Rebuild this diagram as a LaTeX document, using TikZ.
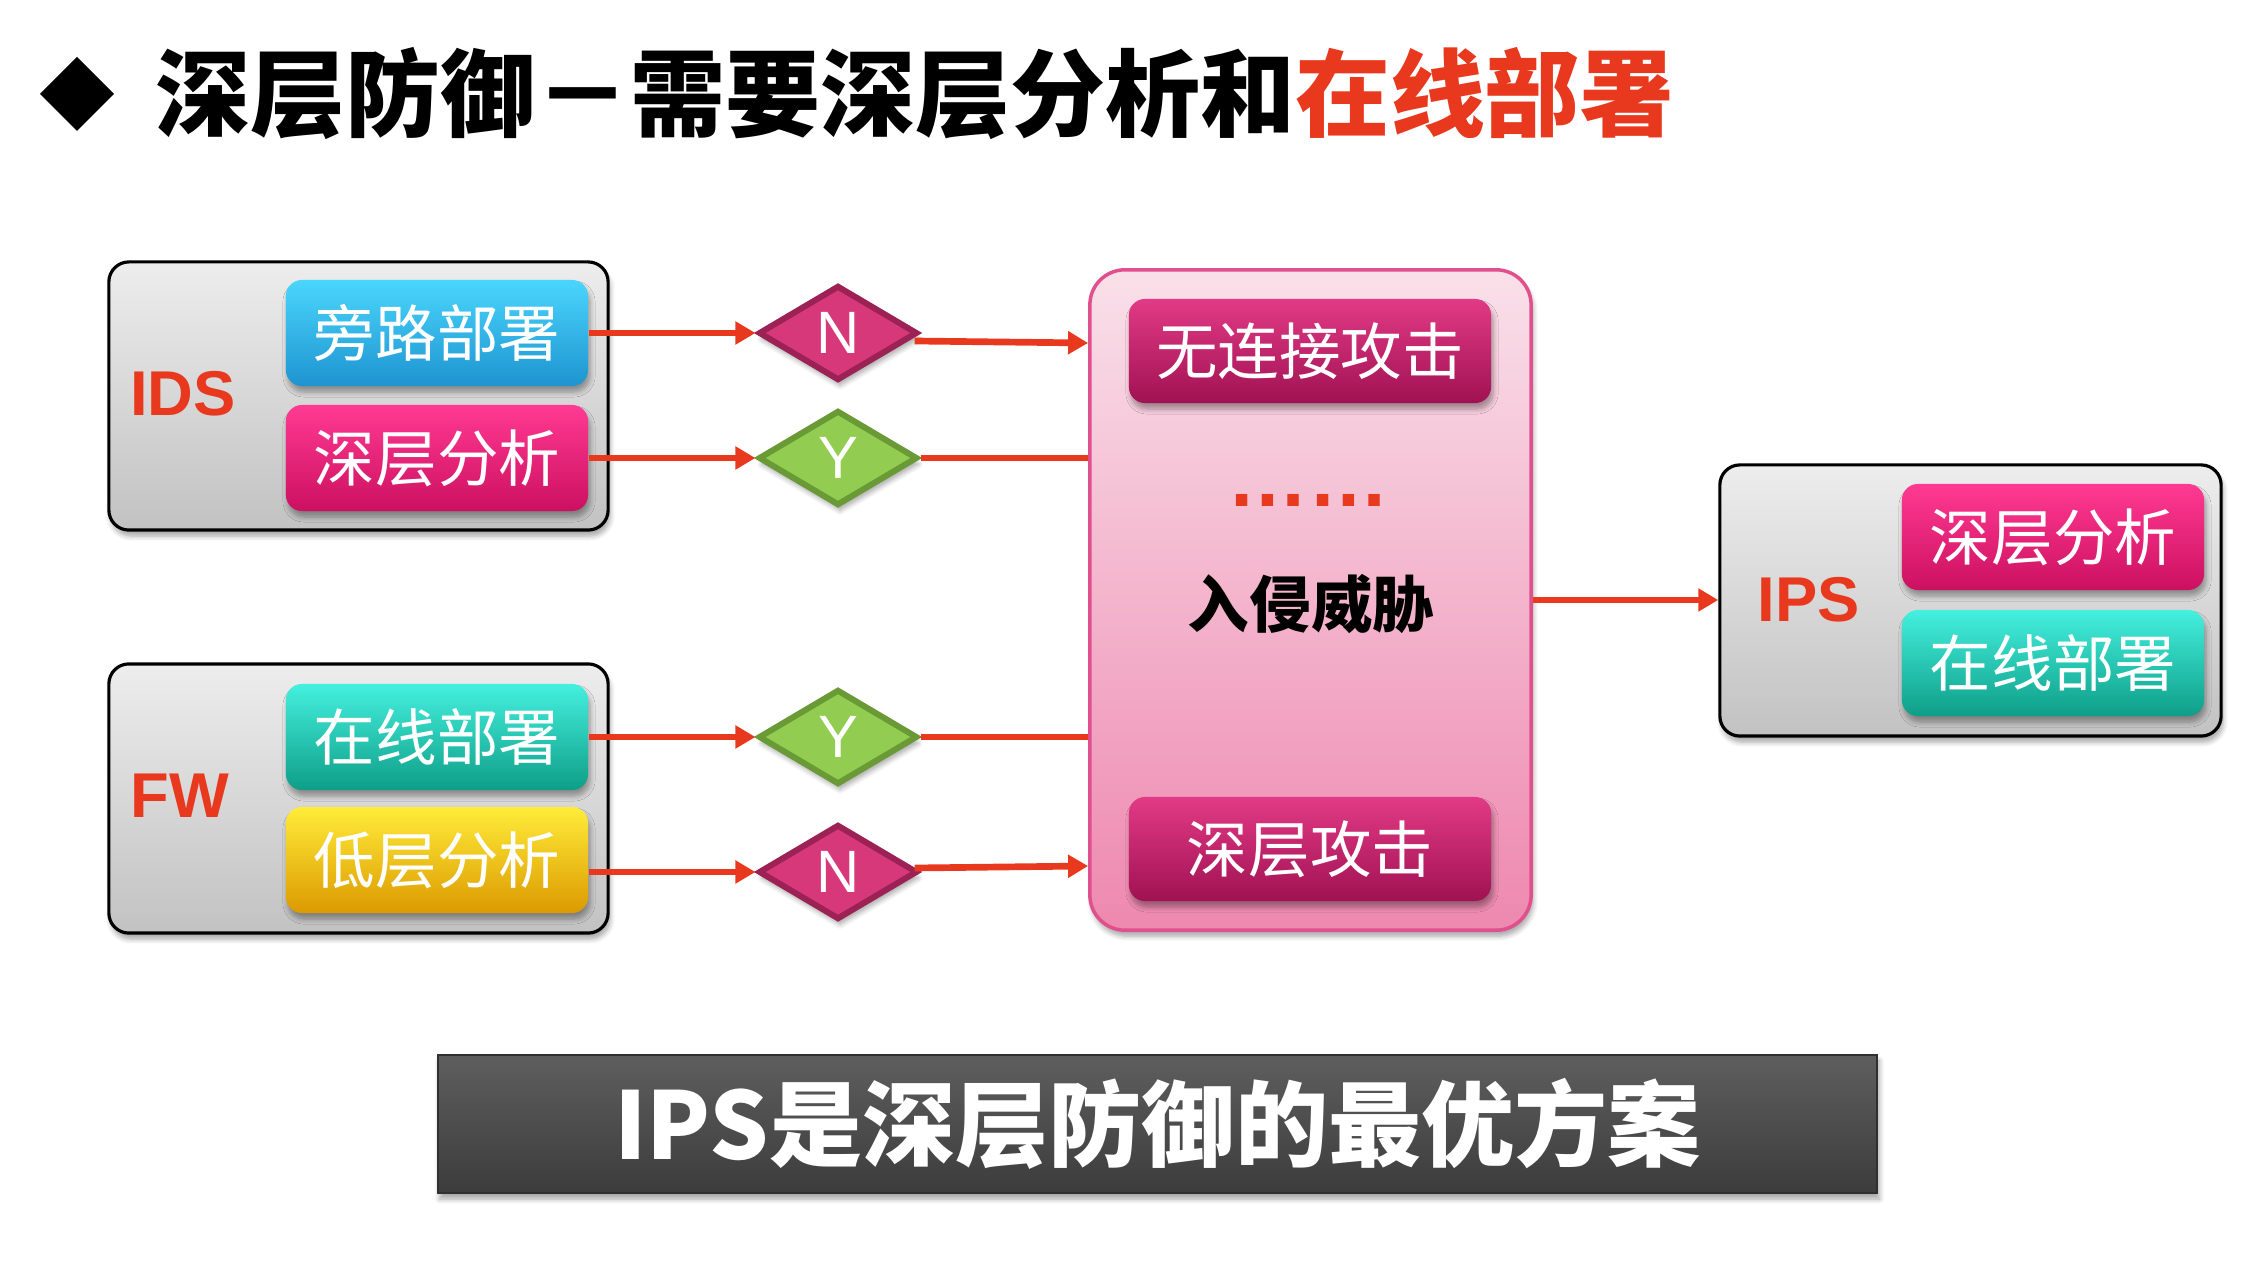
\documentclass[tikz,border=0pt]{standalone}
\usepackage{fontspec}
\usetikzlibrary{arrows.meta,shapes.geometric,shadows.blur,calc}
\newfontfamily\cjk{Noto Sans CJK SC}
\newfontfamily\lat{Liberation Sans}

\definecolor{accent}{HTML}{E8381E}
\definecolor{grouptop}{HTML}{EDEDED}
\definecolor{groupbot}{HTML}{C2C2C2}
\definecolor{bluetop}{HTML}{4AD6FC}
\definecolor{bluemid}{HTML}{26B4EC}
\definecolor{bluebot}{HTML}{1E94D0}
\definecolor{rosetop}{HTML}{FF3A92}
\definecolor{rosemid}{HTML}{FF1576}
\definecolor{rosebot}{HTML}{CC1060}
\definecolor{tealtop}{HTML}{44F0DE}
\definecolor{tealmid}{HTML}{16CBB2}
\definecolor{tealbot}{HTML}{0E9E88}
\definecolor{goldtop}{HTML}{FFEC3A}
\definecolor{goldmid}{HTML}{FFC800}
\definecolor{goldbot}{HTML}{DC9A00}
\definecolor{plumtop}{HTML}{E23A86}
\definecolor{plummid}{HTML}{BE1662}
\definecolor{plumbot}{HTML}{A01252}
\definecolor{nofill}{HTML}{D6387A}
\definecolor{noline}{HTML}{9C2256}
\definecolor{yesfill}{HTML}{92CD52}
\definecolor{yesline}{HTML}{6A9A36}
\definecolor{panelline}{HTML}{E0508C}
\definecolor{paneltop}{HTML}{F9E0E9}
\definecolor{panelbot}{HTML}{EE88AF}
\definecolor{bartop}{HTML}{5E5E5E}
\definecolor{barmid}{HTML}{474747}
\definecolor{barbot}{HTML}{3C3C3C}

\tikzset{
  softshadow/.style={blur shadow={shadow xshift=0.02cm, shadow yshift=-0.06cm,
      shadow blur steps=6, shadow blur radius=0.05cm, shadow opacity=35}},
  group/.style={draw=black, line width=0.9pt, rounded corners=0.2cm,
      top color=grouptop, bottom color=groupbot, softshadow},
  grouplabel/.style={text=accent, font=\lat\bfseries\fontsize{18pt}{20pt}\selectfont},
  tile/.style={rounded corners=0.16cm, minimum width=3.02cm, minimum height=1.06cm,
      inner sep=0pt, text=white, font=\cjk\fontsize{17.5pt}{20pt}\selectfont, softshadow},
  bluetile/.style={tile, top color=bluetop, middle color=bluemid, bottom color=bluebot},
  rosetile/.style={tile, top color=rosetop, middle color=rosemid, bottom color=rosebot},
  tealtile/.style={tile, top color=tealtop, middle color=tealmid, bottom color=tealbot},
  goldtile/.style={tile, top color=goldtop, middle color=goldmid, bottom color=goldbot},
  plumtile/.style={tile, minimum width=3.62cm, minimum height=1.04cm,
      top color=plumtop, middle color=plummid, bottom color=plumbot},
  gate/.style={diamond, minimum width=1.59cm, minimum height=0.95cm, inner sep=0pt,
      line width=1.7pt, text=white, font=\lat\fontsize{17pt}{19pt}\selectfont, softshadow},
  nogate/.style={gate, fill=nofill, draw=noline},
  yesgate/.style={gate, fill=yesfill, draw=yesline},
  link/.style={draw=accent, line width=1.9pt},
  flow/.style={link, -{Triangle[length=0.2cm,width=0.22cm]}},
}

\begin{document}
\begin{tikzpicture}[x=0.01cm,y=-0.01cm]
\useasboundingbox (0,0) rectangle (2244,1264);

% heading
\fill[black] (40,94) -- (77,57) -- (114,94) -- (77,131) -- cycle;
\node[anchor=west, inner sep=0pt, font=\cjk\bfseries\fontsize{27pt}{30pt}\selectfont]
  (heading) at (155,94) {深层防御－需要深层分析和{\color{accent}在线部署}};

% IDS group
\node[group, minimum width=4.99cm, minimum height=2.68cm] (ids) at (358.5,396) {};
\node[grouplabel] (idslabel) at (183,394) {IDS};
\node[bluetile] (bypass) at (437,333) {旁路部署};
\node[rosetile] (deepA) at (437,458) {深层分析};

% FW group
\node[group, minimum width=4.99cm, minimum height=2.69cm] (fw) at (358.5,798.5) {};
\node[grouplabel] (fwlabel) at (180,796) {FW};
\node[tealtile] (onlineA) at (437,737) {在线部署};
\node[goldtile] (low) at (437,860) {低层分析};

% decision gates
\node[nogate] (gN1) at (838,333) {N};
\node[yesgate] (gY1) at (838,458) {Y};
\node[yesgate] (gY2) at (838,737) {Y};
\node[nogate] (gN2) at (838,872) {N};

% threat panel
\node[draw=panelline, line width=1pt, rounded corners=0.35cm, top color=paneltop,
      bottom color=panelbot, minimum width=4.41cm, minimum height=6.6cm, softshadow]
  (panel) at (1310.5,600) {};
\node[plumtile] (noconn) at (1310,351) {无连接攻击};
\node[plumtile] (deepatk) at (1310,849) {深层攻击};
\node[anchor=base, text=accent, font=\lat\bfseries\fontsize{23pt}{26pt}\selectfont, inner sep=0pt]
  (dots) at (1308,507) {……};
\node[font=\cjk\bfseries\fontsize{17.5pt}{20pt}\selectfont] (threat) at (1311,604) {入侵威胁};

% IPS group
\node[group, minimum width=5.01cm, minimum height=2.71cm] (ips) at (1970.5,600.5) {};
\node[grouplabel] (ipslabel) at (1809,600) {IPS};
\node[rosetile] (deepB) at (2053,537) {深层分析};
\node[tealtile] (onlineB) at (2053,663) {在线部署};

% connectors
\draw[flow] (bypass.east |- gN1.west) -- (gN1.west);
\draw[flow] (deepA.east |- gY1.west) -- (gY1.west);
\draw[flow] (onlineA.east |- gY2.west) -- (gY2.west);
\draw[flow] (low.east |- gN2.west) -- (gN2.west);
\draw[flow] ($(gN1.east)+(-6,8)$) -- ($(gN1.east -| panel.west)+(0,10)$);
\draw[link] (gY1.east) -- (gY1.east -| panel.west);
\draw[link] (gY2.east) -- (gY2.east -| panel.west);
\draw[flow] ($(gN2.east)+(-6,-4)$) -- ($(gN2.east -| panel.west)+(0,-6)$);
\draw[flow] (panel.east) -- (panel.east -| ips.west);

% conclusion bar
\node[draw=barbot!80!black, line width=0.6pt, top color=bartop, middle color=barmid,
      bottom color=barbot, minimum width=14.39cm, minimum height=1.38cm, text=white,
      font=\cjk\bfseries\fontsize{26.5pt}{30pt}\selectfont, softshadow]
  (verdict) at (1157.5,1124) {IPS是深层防御的最优方案};
\end{tikzpicture}
\end{document}
